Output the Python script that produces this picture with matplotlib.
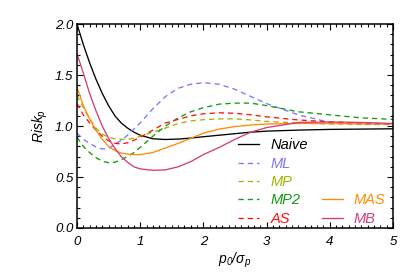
import matplotlib
matplotlib.use("Agg")
import matplotlib.pyplot as plt
from matplotlib.ticker import MultipleLocator, FormatStrFormatter
from matplotlib.lines import Line2D

plt.rcParams['font.family'] = ['Liberation Sans', 'DejaVu Sans']
plt.rcParams['font.style'] = 'italic'
plt.rcParams['mathtext.fontset'] = 'custom'
plt.rcParams['mathtext.it'] = 'Liberation Sans:italic'
plt.rcParams['mathtext.rm'] = 'Liberation Sans:italic'

x = [0, 0.1, 0.2, 0.3, 0.4, 0.5, 0.6, 0.7, 0.8, 0.9, 1.0, 1.2, 1.4, 1.6, 1.8,
     2.0, 2.25, 2.5, 2.75, 3.0, 3.5, 4.0, 4.5, 5.0]

naive = [2.0, 1.80, 1.62, 1.46, 1.32, 1.20, 1.10, 1.03, 0.98, 0.94, 0.91, 0.875,
         0.868, 0.872, 0.882, 0.895, 0.91, 0.925, 0.94, 0.95, 0.96, 0.967, 0.97, 0.973]
ml = [0.93, 0.87, 0.83, 0.795, 0.775, 0.78, 0.82, 0.86, 0.91, 0.97, 1.03, 1.17,
      1.29, 1.37, 1.41, 1.425, 1.41, 1.36, 1.29, 1.22, 1.11, 1.035, 1.015, 1.015]
mp = [1.30, 1.18, 1.07, 0.98, 0.92, 0.89, 0.875, 0.87, 0.87, 0.88, 0.90, 0.94,
      0.98, 1.025, 1.05, 1.062, 1.07, 1.07, 1.06, 1.045, 1.03, 1.02, 1.02, 1.02]
mp2 = [0.89, 0.80, 0.74, 0.69, 0.655, 0.64, 0.645, 0.67, 0.70, 0.74, 0.79, 0.90,
       1.00, 1.08, 1.14, 1.18, 1.215, 1.225, 1.225, 1.20, 1.14, 1.11, 1.08, 1.065]
as_ = [1.22, 1.11, 1.03, 0.96, 0.90, 0.855, 0.83, 0.825, 0.835, 0.86, 0.89, 0.96,
       1.03, 1.065, 1.10, 1.12, 1.13, 1.125, 1.11, 1.09, 1.06, 1.04, 1.03, 1.02]
mas = [1.38, 1.20, 1.07, 0.96, 0.87, 0.80, 0.76, 0.735, 0.725, 0.72, 0.72, 0.74,
       0.785, 0.83, 0.88, 0.93, 0.97, 0.995, 1.01, 1.02, 1.025, 1.025, 1.02, 1.02]
mb = [1.71, 1.52, 1.32, 1.15, 1.00, 0.88, 0.78, 0.70, 0.645, 0.60, 0.58, 0.566,
      0.57, 0.60, 0.65, 0.72, 0.79, 0.87, 0.94, 0.985, 1.035, 1.04, 1.035, 1.025]

labels = ['Naive', 'ML', 'MP', 'MP2', 'AS', 'MAS', 'MB']
colors = ['black', '#7878ff', '#a4b400', '#109c10', '#ff1010', '#ff8c00', '#d63c78']
series = [naive, ml, mp, mp2, as_, mas, mb]
dashed = [False, True, True, True, True, False, False]

fig = plt.figure(figsize=(4.15, 2.77), dpi=100)
ax = fig.add_axes([0.1855, 0.177, 0.7615, 0.736])

handles = []
for y, c, d, lab in zip(series, colors, dashed, labels):
    ls = (0, (4, 3)) if d else '-'
    h, = ax.plot(x, y, color=c, lw=0.95, ls=ls, label=lab)
    handles.append(h)

ax.set_xlim(0, 5)
ax.set_ylim(0, 2)
ax.xaxis.set_major_locator(MultipleLocator(1))
ax.xaxis.set_minor_locator(MultipleLocator(0.1))
ax.yaxis.set_major_locator(MultipleLocator(0.5))
ax.yaxis.set_minor_locator(MultipleLocator(0.1))
ax.yaxis.set_major_formatter(FormatStrFormatter('%.1f'))
ax.tick_params(which='both', direction='in', top=True, right=True, width=0.8)
ax.tick_params(which='major', length=4.5)
ax.tick_params(which='minor', length=2.2)
ax.tick_params(axis='x', which='major', pad=6, labelsize=9.5)
ax.tick_params(axis='y', which='major', pad=2.5, labelsize=9.5)
for s in ax.spines.values():
    s.set_linewidth(1.1)

ax.set_xlabel(r'$p_0/\sigma_p$', fontsize=10, labelpad=2)
ax.set_ylabel(r'$Risk_p$', fontsize=10, labelpad=4)

blank = Line2D([], [], color='none')
leg_handles = handles[:5] + [blank, blank, blank] + handles[5:]
leg_labels = labels[:5] + ['', '', ''] + labels[5:]
leg = ax.legend(leg_handles, leg_labels, ncol=2, frameon=False, loc='upper left',
                bbox_to_anchor=(0.51, 0.44), borderpad=0, borderaxespad=0,
                handlelength=1.45, handletextpad=0.75, columnspacing=0.95,
                labelspacing=0.3, fontsize=10.5, labelcolor='linecolor')

fig.savefig('out.png', dpi=100)
